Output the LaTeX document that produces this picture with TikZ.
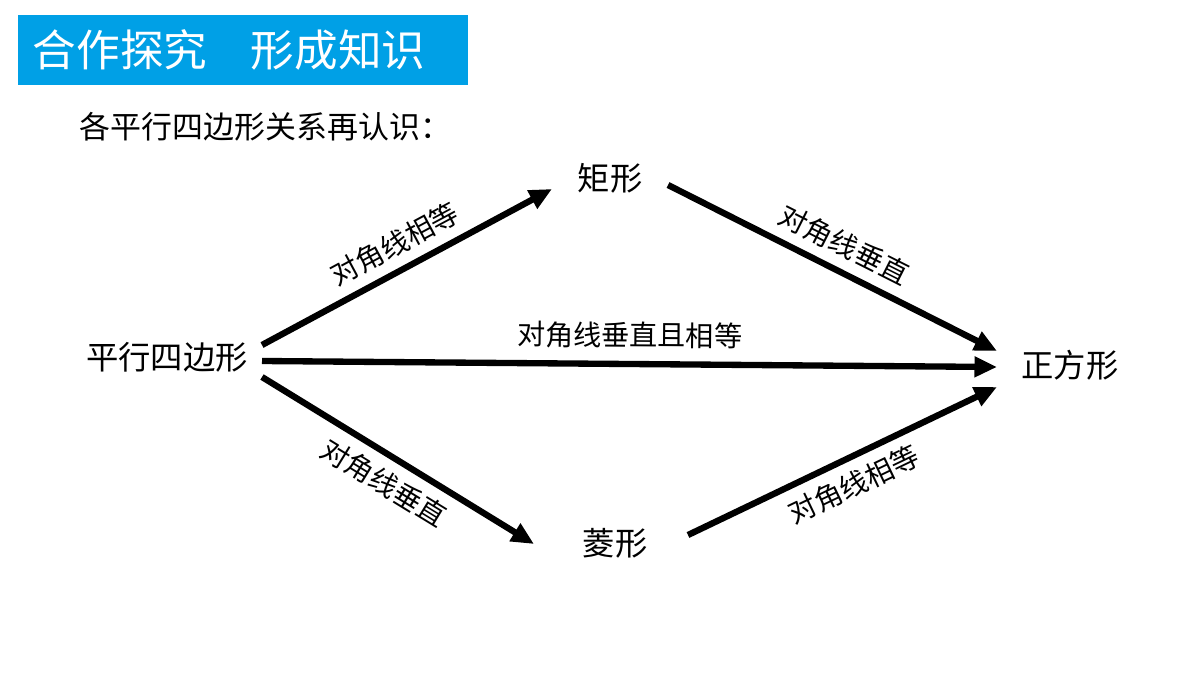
\documentclass[tikz,border=0pt]{standalone}
\usepackage{fontspec}
\setmainfont{Noto Sans CJK SC}
\usetikzlibrary{arrows.meta}
\definecolor{titleblue}{RGB}{0,160,230}
\tikzset{
  quad/.style={font=\fontsize{23}{27}\selectfont, inner sep=2pt},
  rel/.style={line width=4.5pt, -{Triangle[length=16pt,width=14pt]}},
  lbl/.style={font=\fontsize{20}{24}\selectfont, sloped, midway, inner sep=1pt}
}
\begin{document}
\begin{tikzpicture}[x=0.025cm,y=-0.025cm]
  \useasboundingbox (0,0) rectangle (1200,675);

  \fill[titleblue] (18,15) rectangle (468,85);
  \node[anchor=west, text=white, font=\fontsize{31}{35}\selectfont] (title) at (28,50) {合作探究\quad 形成知识};
  \node[anchor=west, font=\fontsize{22}{26}\selectfont] (sub) at (75,127) {各平行四边形关系再认识：};

  \node[quad] (pxb) at (167,357) {平行四边形};
  \node[quad] (jx) at (610,178) {矩形};
  \node[quad] (lx) at (615,543) {菱形};
  \node[quad] (zfx) at (1070,365) {正方形};

  % arrows
  \coordinate (a1) at (262,345); \coordinate (b1) at (552,189);
  \coordinate (a2) at (668,185); \coordinate (b2) at (997,351);
  \coordinate (a3) at (262,361); \coordinate (b3) at (997,367);
  \coordinate (a4) at (262,377); \coordinate (b4) at (534,544);
  \coordinate (a5) at (688,535); \coordinate (b5) at (997,387);

  \draw[rel] (a1) -- (b1) node[lbl, above=6pt] {对角线相等};
  \draw[rel] (a2) -- (b2) node[lbl, above=6pt] {对角线垂直};
  \draw[rel] (a3) -- (b3) node[lbl, above=8pt] {对角线垂直且相等};
  \draw[rel] (a4) -- (b4) node[lbl, below=6pt] {对角线垂直};
  \draw[rel] (a5) -- (b5) node[lbl, below=6pt] {对角线相等};
\end{tikzpicture}
\end{document}
